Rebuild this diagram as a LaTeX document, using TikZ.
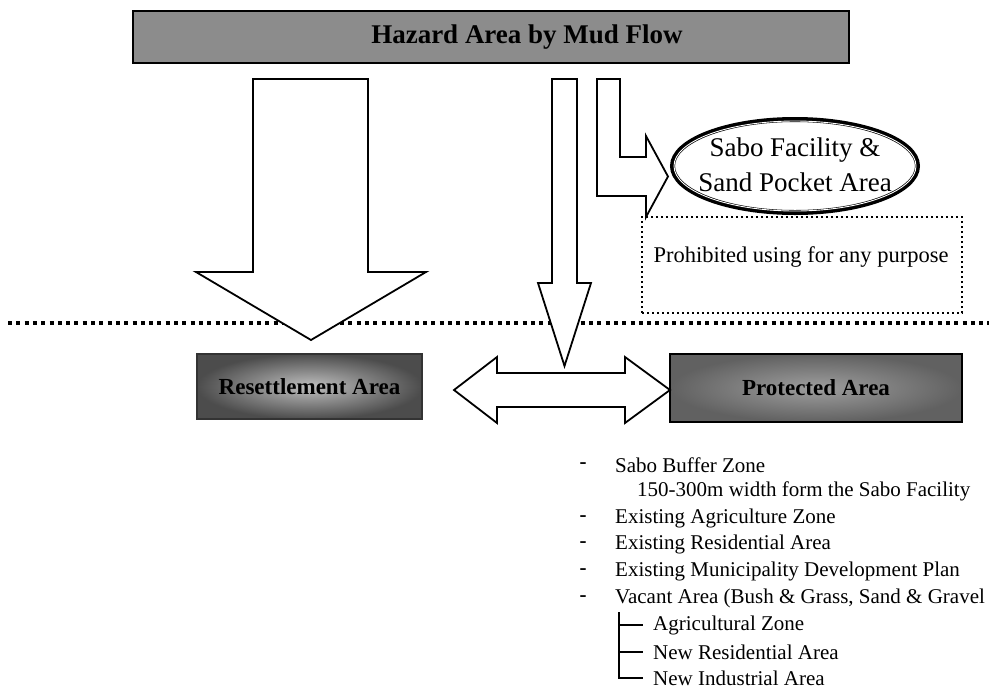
\documentclass[tikz,border=0pt]{standalone}
\usepackage{fontspec}
\setmainfont{Liberation Serif}
\usetikzlibrary{shapes.geometric}
\definecolor{bargray}{gray}{0.55}
\definecolor{boxgray}{gray}{0.45}
\tikzset{
  blockarrow/.style={draw=black, fill=white, line width=1.8pt, line join=miter},
  graybox/.style={draw=black, line width=1.6pt, fill=boxgray, inner sep=0pt,
    font=\fontsize{23}{27}\selectfont\bfseries},
  listtext/.style={anchor=west, inner sep=0pt, font=\fontsize{21}{24}\selectfont},
  dashmark/.style={anchor=center, inner sep=0pt, font=\fontsize{21}{24}\selectfont\bfseries},
}
\begin{document}
\begin{tikzpicture}[x=1pt,y=-1pt]
\useasboundingbox (0,0) rectangle (989,689);

% title bar
\node[draw=black, line width=2.4pt, fill=bargray, minimum width=716pt, minimum height=52pt,
      inner sep=0pt] (hazard) at (491,37) {};
\node[inner sep=0pt, font=\fontsize{27}{32}\selectfont\bfseries] (hazardtxt) at (527,37) {Hazard Area by Mud Flow};

% dotted separator line
\coordinate (sepL) at (8,323);
\coordinate (sepR) at (989,323);
\draw[line width=4pt, dash pattern=on 4pt off 4.3pt] (sepL) -- (sepR);

% big left arrow
\draw[blockarrow] (253,79) -- (368,79) -- (368,272) -- (426,272) -- (311,340)
  -- (196,272) -- (253,272) -- cycle;

% middle arrow
\draw[blockarrow] (552,79) -- (577,79) -- (577,283) -- (591,283) -- (564.5,366)
  -- (538,283) -- (552,283) -- cycle;

% L-shaped arrow
\draw[blockarrow] (597,79) -- (620,79) -- (620,157) -- (646,157) -- (646,136)
  -- (668,176.5) -- (646,217) -- (646,196) -- (597,196) -- cycle;

% Sabo facility ellipse
\node[ellipse, draw=black, line width=5pt, fill=white,
      minimum width=245pt, minimum height=93pt, inner sep=0pt] (sabo) at (795,166) {};
\draw[white, line width=0.9pt] (sabo.center) ellipse [x radius=121pt, y radius=45pt];
\node[inner sep=0pt, align=center, font=\fontsize{27}{35}\selectfont] (sabotxt) at (795,165)
  {Sabo Facility \&\\Sand Pocket Area};

% prohibited dotted box
\node[draw=black, line width=2pt, dash pattern=on 2.2pt off 2.8pt,
      minimum width=320pt, minimum height=96pt, inner sep=0pt] (prohib) at (802,265) {};
\node[inner sep=0pt, font=\fontsize{22.5}{26}\selectfont] (prohibtxt) at (801,257)
  {Prohibited using for any purpose};

% resettlement and protected boxes
\node[graybox, minimum width=225pt, minimum height=65pt, draw=black!80, line width=1.2pt,
      shading=radial, inner color=black!25, outer color=black!70] (resettle) at (309.5,386.5)
  {Resettlement Area};
\node[graybox, minimum width=292pt, minimum height=68pt,
      shading=radial, inner color=black!38, outer color=black!62] (protect) at (816,388)
  {Protected Area};

% double arrow
\draw[blockarrow] (454,390) -- (497,357) -- (497,373) -- (625,373) -- (625,357)
  -- (670,390) -- (625,423) -- (625,407) -- (497,407) -- (497,423) -- cycle;

% list
\node[dashmark] (d1) at (583,466) {-};
\node[listtext] (l1) at (615,465) {Sabo Buffer Zone};
\node[listtext] (l1b) at (637,491) {150-300m width form the Sabo Facility};
\node[dashmark] (d2) at (583,519) {-};
\node[listtext] (l2) at (615,518) {Existing Agriculture Zone};
\node[dashmark] (d3) at (583,545) {-};
\node[listtext] (l3) at (615,544) {Existing Residential Area};
\node[dashmark] (d4) at (583,572) {-};
\node[listtext] (l4) at (615,571) {Existing Municipality Development Plan};
\node[dashmark] (d5) at (583,599) {-};
\node[listtext] (l5) at (615,598) {Vacant Area (Bush \& Grass, Sand \& Gravel};

\node[listtext] (t1) at (653,625) {Agricultural Zone};
\node[listtext] (t2) at (653,652) {New Residential Area};
\node[listtext] (t3) at (653,678) {New Industrial Area};
\coordinate (treetop) at (619,612);
\draw[line width=1.4pt] (treetop) |- ([xshift=-10pt]t3.west);
\draw[line width=1.4pt] (619,625) -- ([xshift=-10pt]t1.west);
\draw[line width=1.4pt] (619,652) -- ([xshift=-10pt]t2.west);
\end{tikzpicture}
\end{document}
